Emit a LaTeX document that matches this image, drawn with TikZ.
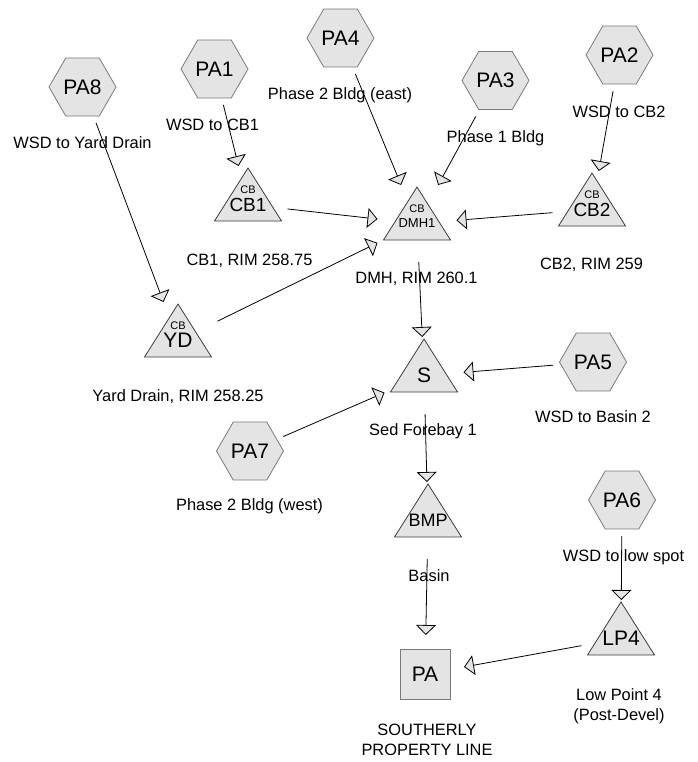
\documentclass[tikz,border=0pt]{standalone}
\usepackage{fontspec}
\setmainfont{Liberation Sans}
\usetikzlibrary{shapes.geometric, arrows.meta}

\definecolor{symfill}{HTML}{E4E4E4}
\definecolor{hexline}{HTML}{7A7A7A}
\definecolor{triline}{HTML}{3C3C3C}

\begin{document}
\begin{tikzpicture}[x=1pt, y=-1pt,
        hexa/.style={regular polygon, regular polygon sides=6, minimum size=67pt, inner sep=1pt,
            draw=hexline, fill=symfill, line width=0.8pt, outer sep=7pt, font=\fontsize{21}{21}\selectfont},
        tri/.style={rectangle, minimum width=79pt, minimum height=77pt, inner sep=0pt, outer sep=0pt,
            font=\fontsize{21}{21}\selectfont,
            path picture={\draw[draw=triline, fill=symfill, line width=0.8pt]
                ([shift={(6pt,22pt)}]path picture bounding box.south west) --
                ([yshift=-2pt]path picture bounding box.north) --
                ([shift={(-6pt,22pt)}]path picture bounding box.south east) -- cycle;}},
        cb/.style={label={[name=#1, font=\fontsize{11}{11}\selectfont, yshift=15pt]center:CB}},
        outlet/.style={rectangle, minimum size=50pt, inner sep=0pt, draw=hexline, fill=symfill,
            line width=0.8pt, outer sep=14pt, font=\fontsize{21}{21}\selectfont},
        lbl/.style={font=\fontsize{16.4}{20}\selectfont, inner sep=0pt, text height=12pt, text depth=3.5pt},
        lblm/.style={font=\fontsize{16.4}{20}\selectfont, inner sep=0pt, align=center},
        link/.style={line width=0.8pt, -{Triangle[fill=symfill, length=10pt, width=20pt]}}]
    \useasboundingbox (0,0) rectangle (697,762);

    % Subcuencas (hexagonos)
    \foreach \n/\x/\y/\t in {pa8/82.5/87/PA8, pa1/214.5/69/PA1, pa4/340.5/38/PA4, pa3/495.5/80.5/PA3,
            pa2/619.5/55/PA2, pa5/593/362/PA5, pa7/250/451/PA7, pa6/622/500/PA6} {
        \node[hexa] (\n) at (\x,\y) {\t};
    }

    % Nodos de paso (triangulos)
    \node[tri, cb=cb1t, font=\fontsize{19}{19}\selectfont] (cb1) at (248,204.5) {CB1};
    \node[tri, cb=dmh1t, font=\fontsize{13}{13}\selectfont] (dmh1) at (417,223.5) {DMH1};
    \node[tri, cb=cb2t, font=\fontsize{19}{19}\selectfont] (cb2) at (592,209.5) {CB2};
    \node[tri, cb=ydt] (yd) at (178,340.5) {YD};
    \node[tri] (s) at (424,375.5) {S};
    \node[tri, font=\fontsize{18}{18}\selectfont] (bmp) at (428,520.5) {BMP};
    \node[tri] (lp4) at (621,638.5) {LP4};

    % Punto de descarga
    \node[outlet] (spl) at (425,674) {PA};

    % Etiquetas
    \foreach \n/\x/\y/\t in {t8/82.5/144.6/{WSD to Yard Drain}, t1/212.5/126.6/{WSD to CB1},
            t4/340/95.6/{Phase 2 Bldg (east)}, t3/495.5/138.6/{Phase 1 Bldg}, t2/619/113.6/{WSD to CB2},
            tcb1/249.5/261.6/{CB1, RIM 258.75}, tdmh/416.5/279.6/{DMH, RIM 260.1},
            tcb2/591.5/265.6/{CB2, RIM 259}, tyd/178/397.6/{Yard Drain, RIM 258.25},
            ts/423/431.6/{Sed Forebay 1}, t5/593/418.6/{WSD to Basin 2},
            t7/249.5/506.6/{Phase 2 Bldg (west)}, tbmp/429/577.6/{Basin}, t6/623.5/557.6/{WSD to low spot}} {
        \node[lbl] (\n) at (\x,\y) {\t};
    }
    \node[lblm] (tlp4) at (619,706.2) {Low Point 4\\(Post-Devel)};
    \node[lblm] (tspl) at (427,740) {SOUTHERLY\\PROPERTY LINE};

    % Conexiones
    \foreach \a/\b in {pa8/yd, pa1/cb1, pa4/dmh1, pa3/dmh1, pa2/cb2, cb1/dmh1, cb2/dmh1, yd/dmh1,
            dmh1/s, pa5/s, pa7/s, s/bmp, bmp/spl, pa6/lp4, lp4/spl} {
        \draw[link] (\a) -- (\b);
    }
\end{tikzpicture}
\end{document}
